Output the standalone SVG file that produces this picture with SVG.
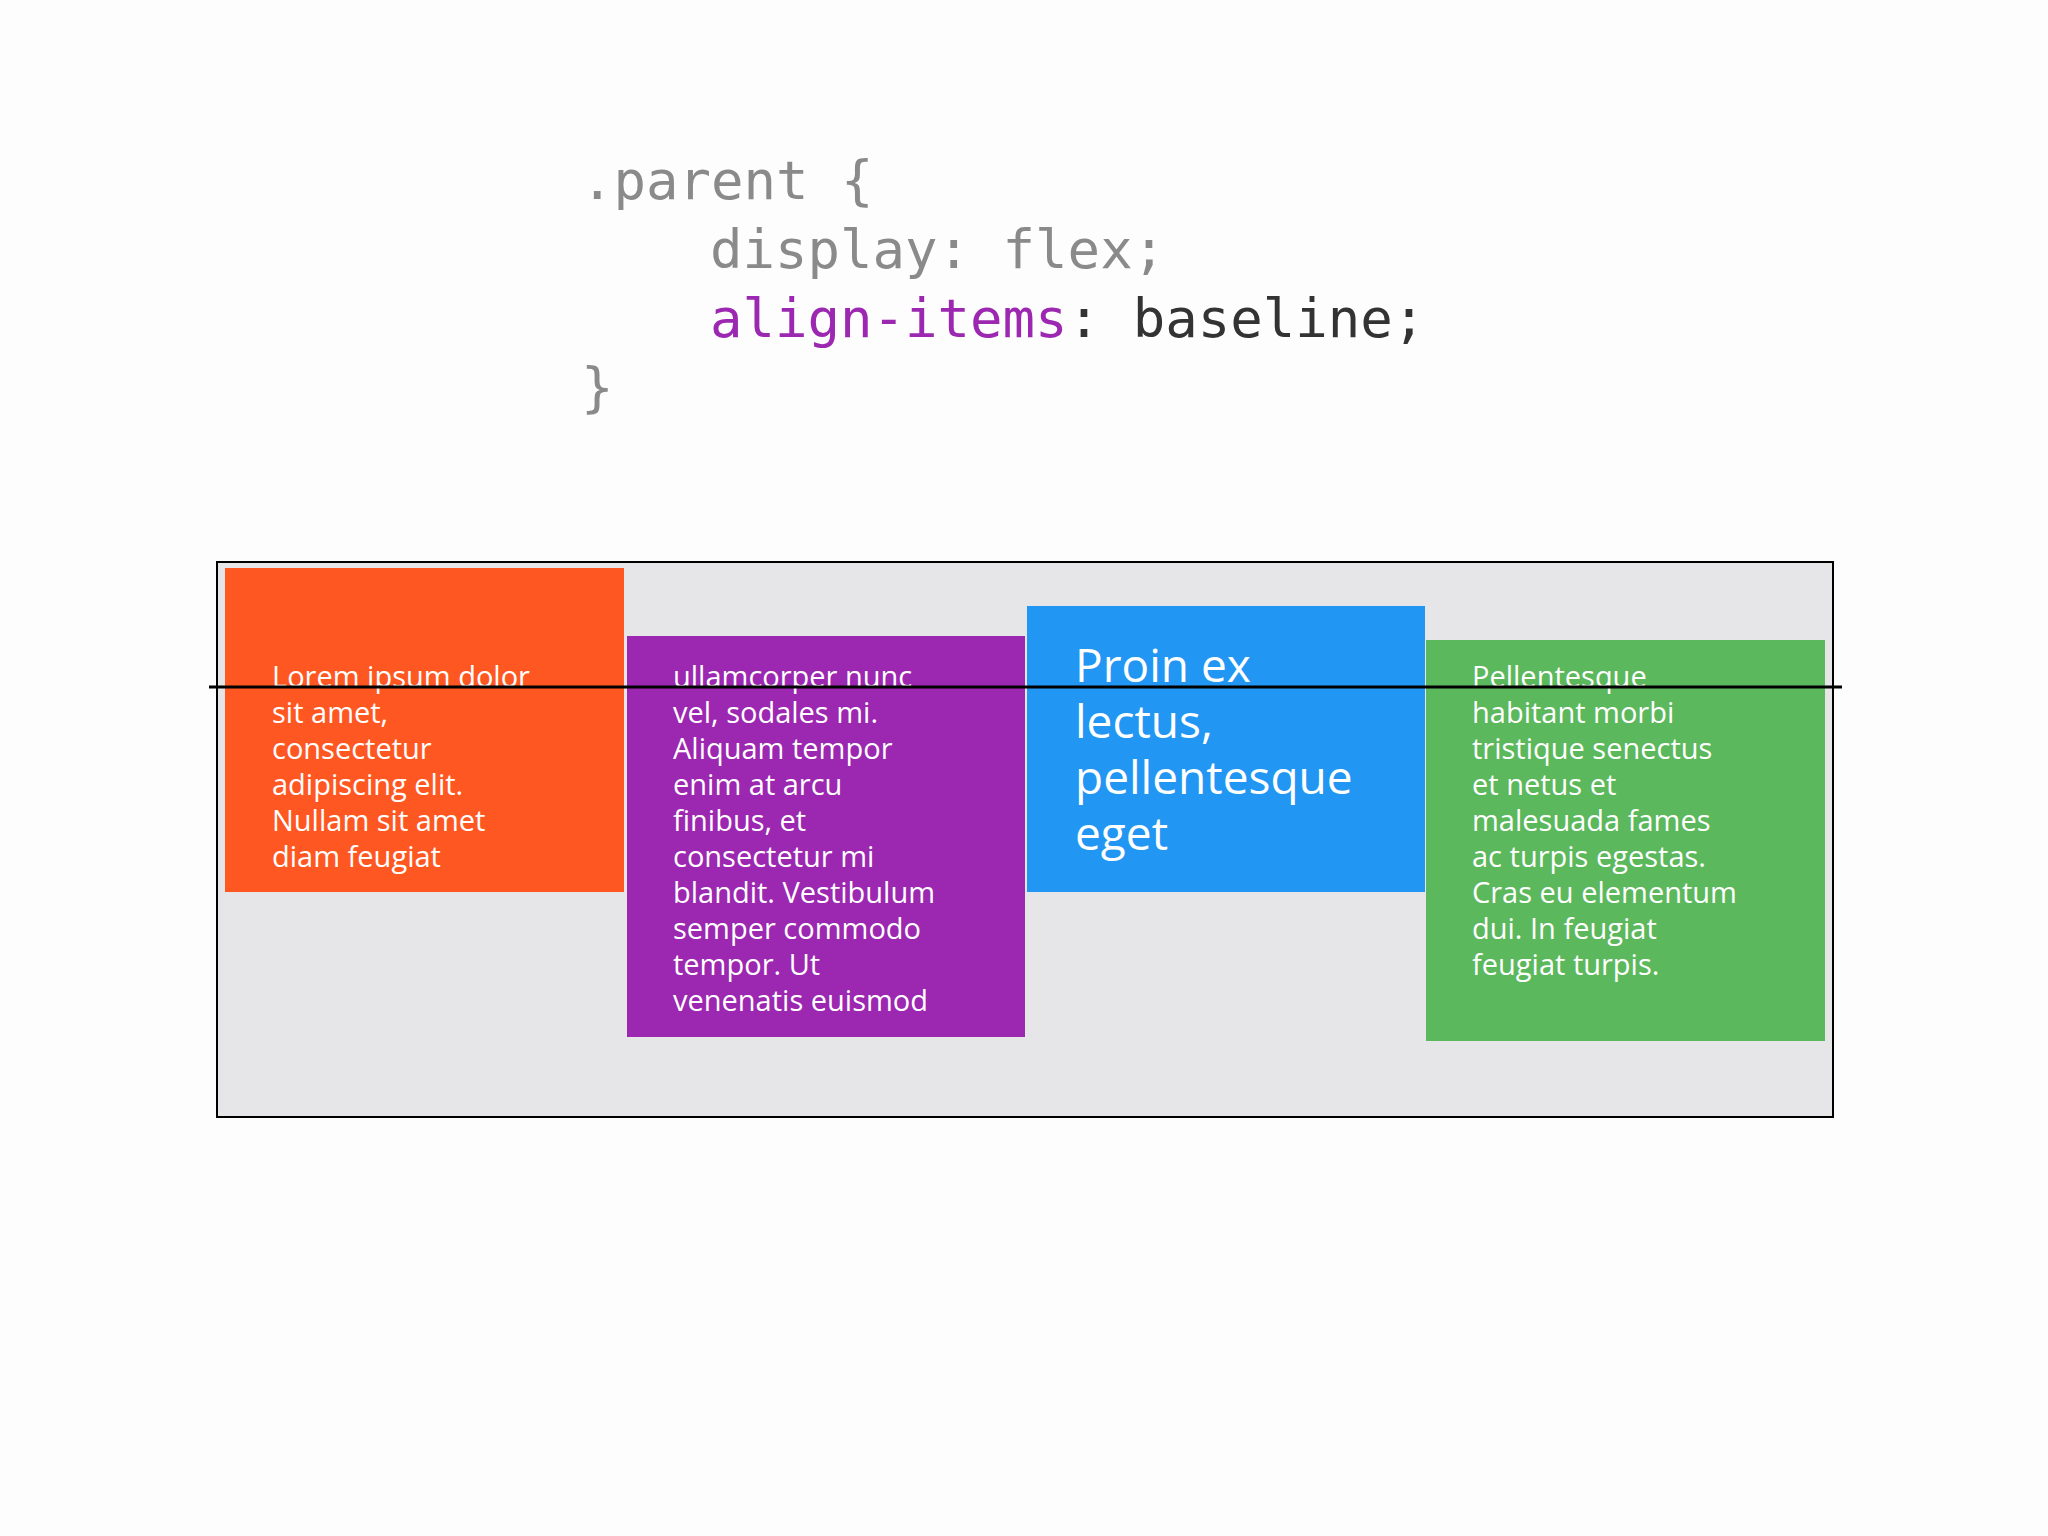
<svg xmlns="http://www.w3.org/2000/svg" width="2048" height="1536" viewBox="0 0 2048 1536">
<style>
.code{font-family:"DejaVu Sans Mono","Liberation Mono",monospace;font-size:54px}
.t{font-family:"Open Sans","Noto Sans",sans-serif;font-size:29px;fill:#fff}
.big{font-family:"Open Sans","Noto Sans",sans-serif;font-size:46px;fill:#fff}
</style>
<rect width="2048" height="1536" fill="#fdfdfd"/>
<g id="code">
<text class="code" x="581" y="199" fill="#8a8a8a">.parent {</text>
<text class="code" x="710" y="268" fill="#8a8a8a">display: flex;</text>
<text class="code" x="710" y="337"><tspan fill="#9c27b0">align-items</tspan><tspan fill="#333">: baseline;</tspan></text>
<text class="code" x="581" y="406" fill="#8a8a8a">}</text>
</g>
<g id="container"><rect x="217" y="562" width="1616" height="555" fill="#e6e5e7" stroke="#000" stroke-width="2"/></g>
<g id="item1"><rect x="225" y="568" width="399" height="324" fill="#ff5722"/>
<text class="t" x="272" y="687"><tspan x="272">Lorem ipsum dolor</tspan><tspan x="272" dy="36">sit amet,</tspan><tspan x="272" dy="36">consectetur</tspan><tspan x="272" dy="36">adipiscing elit.</tspan><tspan x="272" dy="36">Nullam sit amet</tspan><tspan x="272" dy="36">diam feugiat</tspan></text></g>
<g id="item2"><rect x="627" y="636" width="398" height="401" fill="#9c27b0"/>
<text class="t" x="673" y="687"><tspan x="673">ullamcorper nunc</tspan><tspan x="673" dy="36">vel, sodales mi.</tspan><tspan x="673" dy="36">Aliquam tempor</tspan><tspan x="673" dy="36">enim at arcu</tspan><tspan x="673" dy="36">finibus, et</tspan><tspan x="673" dy="36">consectetur mi</tspan><tspan x="673" dy="36">blandit. Vestibulum</tspan><tspan x="673" dy="36">semper commodo</tspan><tspan x="673" dy="36">tempor. Ut</tspan><tspan x="673" dy="36">venenatis euismod</tspan></text></g>
<g id="item3"><rect x="1027" y="606" width="398" height="286" fill="#2196f3"/>
<text class="big" x="1075" y="682"><tspan x="1075">Proin ex</tspan><tspan x="1075" dy="56">lectus,</tspan><tspan x="1075" dy="56">pellentesque</tspan><tspan x="1075" dy="56">eget</tspan></text></g>
<g id="item4"><rect x="1426" y="640" width="399" height="401" fill="#5cb85c"/>
<text class="t" x="1472" y="687"><tspan x="1472">Pellentesque</tspan><tspan x="1472" dy="36">habitant morbi</tspan><tspan x="1472" dy="36">tristique senectus</tspan><tspan x="1472" dy="36">et netus et</tspan><tspan x="1472" dy="36">malesuada fames</tspan><tspan x="1472" dy="36">ac turpis egestas.</tspan><tspan x="1472" dy="36">Cras eu elementum</tspan><tspan x="1472" dy="36">dui. In feugiat</tspan><tspan x="1472" dy="36">feugiat turpis.</tspan></text></g>
<g id="connectors"><line x1="209" y1="687" x2="1842" y2="687" stroke="#000" stroke-width="3"/></g>
</svg>
